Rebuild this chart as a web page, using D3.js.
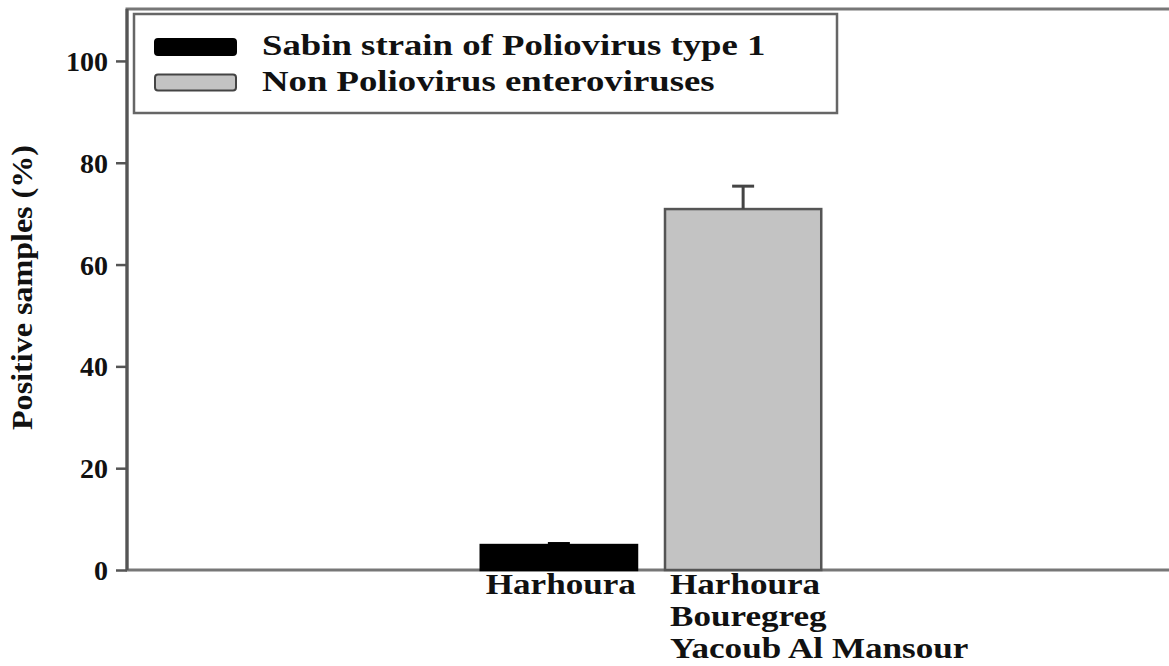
<!DOCTYPE html>
<html>
<head>
<meta charset="utf-8">
<script src="https://cdn.jsdelivr.net/npm/d3@7"></script>
<style>
  body { margin: 0; background: #fff; }
  text { font-family: "Liberation Serif", "Times New Roman", serif; font-weight: bold; fill: #111; }
</style>
</head>
<body>
<div id="vizcont"></div>
<script>
// data
var sites = ["Harhoura", "Harhoura|Bouregreg|Yacoub Al Mansour"];
var series = ["Sabin strain of Poliovirus type 1", "Non Poliovirus enteroviruses"];
var values = [4.9, 70.9];
var errors = [0.3, 4.5];
var yTicks = [0, 20, 40, 60, 80, 100];

var width = 1169, height = 666;
var margin = {top: 9, right: -6, bottom: 96, left: 127};

var svg = d3.select("#vizcont")
    .append("svg")
    .attr("width", width)
    .attr("height", height);

var x = d3.scaleBand()
    .domain(sites)
    .range([margin.left, width - margin.right])
    .paddingInner(0.152)
    .paddingOuter(1.92);

var y = d3.scaleLinear()
    .domain([0, 110.2])
    .range([height - margin.bottom, margin.top]);

var z = d3.scaleOrdinal()
    .domain(series)
    .range(["#000000", "#c3c3c3"]);

// frame (right edge falls outside the picture)
svg.append("rect")
    .attr("x", margin.left)
    .attr("y", margin.top)
    .attr("width", width - margin.right - margin.left)
    .attr("height", y(0) - margin.top)
    .attr("fill", "none")
    .attr("stroke", "#777")
    .attr("stroke-width", 3);

// bars
svg.append("g")
    .selectAll("rect")
    .data(sites)
    .enter()
    .append("rect")
    .attr("x", function(d) { return x(d); })
    .attr("y", function(d, i) { return y(values[i]); })
    .attr("width", x.bandwidth())
    .attr("height", function(d, i) { return y(0) - y(values[i]); })
    .attr("fill", function(d, i) { return z(series[i]); })
    .attr("stroke", function(d, i) { return i == 0 ? "#000" : "#555"; })
    .attr("stroke-width", 2.5);

// error bars (upper only)
var eb = svg.append("g")
    .selectAll("g")
    .data(sites)
    .enter()
    .append("g")
    .attr("stroke", function(d, i) { return i == 0 ? "#000" : "#444"; })
    .attr("stroke-width", 3);
eb.append("line")
    .attr("x1", function(d) { return x(d) + x.bandwidth() / 2; })
    .attr("x2", function(d) { return x(d) + x.bandwidth() / 2; })
    .attr("y1", function(d, i) { return y(values[i]); })
    .attr("y2", function(d, i) { return y(values[i] + errors[i]); });
eb.append("line")
    .attr("x1", function(d) { return x(d) + x.bandwidth() / 2 - 11; })
    .attr("x2", function(d) { return x(d) + x.bandwidth() / 2 + 11; })
    .attr("y1", function(d, i) { return y(values[i] + errors[i]); })
    .attr("y2", function(d, i) { return y(values[i] + errors[i]); });

// y axis
var yAxis = svg.append("g")
    .attr("transform", "translate(" + margin.left + ",0)")
    .call(d3.axisLeft(y).tickValues(yTicks).tickSize(11).tickPadding(8));
yAxis.select(".domain").remove();
yAxis.selectAll(".tick line").attr("stroke", "#555").attr("stroke-width", 2.5);
yAxis.selectAll(".tick text")
    .style("font-size", "28px")
    .style("font-family", "'Liberation Serif', serif")
    .style("font-weight", "bold")
    .attr("fill", "#111")
    .attr("dy", "0.34em");
svg.append("line")
    .attr("x1", margin.left).attr("x2", margin.left)
    .attr("y1", margin.top).attr("y2", y(0))
    .attr("stroke", "#555").attr("stroke-width", 3);

// y axis title
svg.append("text")
    .attr("transform", "translate(32," + (y(55.5)) + ") rotate(-90)")
    .attr("text-anchor", "middle")
    .style("font-size", "30px")
    .attr("textLength", 285)
    .attr("lengthAdjust", "spacingAndGlyphs")
    .text("Positive samples (%)");

// horizontally stretched text helper
function stretch(sel, k) {
    sel.each(function() {
        var w = this.getComputedTextLength();
        d3.select(this).attr("textLength", w * k).attr("lengthAdjust", "spacingAndGlyphs");
    });
}

// category labels
var lab = svg.append("g")
    .selectAll("text")
    .data(sites)
    .enter()
    .append("text")
    .style("font-size", "30px");
lab.selectAll("tspan")
    .data(function(d) { return d.split("|"); })
    .enter()
    .append("tspan")
    .attr("x", function() { return x(d3.select(this.parentNode).datum()) + 5; })
    .attr("y", function(d, i) { return 594 + i * 32; })
    .text(function(d) { return d; });
lab.selectAll("tspan").call(stretch, 1.17);

// legend
var lg = svg.append("g");
lg.append("rect")
    .attr("x", 134).attr("y", 14)
    .attr("width", 703).attr("height", 99)
    .attr("fill", "#fff")
    .attr("stroke", "#666")
    .attr("stroke-width", 2.5);
var li = lg.selectAll("g")
    .data(series)
    .enter()
    .append("g")
    .attr("transform", function(d, i) { return "translate(0," + i * 35.5 + ")"; });
li.append("rect")
    .attr("x", 155).attr("y", 39)
    .attr("width", 81).attr("height", 16)
    .attr("rx", 3)
    .attr("fill", z)
    .attr("stroke", function(d, i) { return i == 0 ? "#000" : "#444"; })
    .attr("stroke-width", 2);
li.append("text")
    .attr("x", 262).attr("y", 55)
    .style("font-size", "30px")
    .text(function(d) { return d; })
    .call(stretch, 1.225);
</script>
</body>
</html>
